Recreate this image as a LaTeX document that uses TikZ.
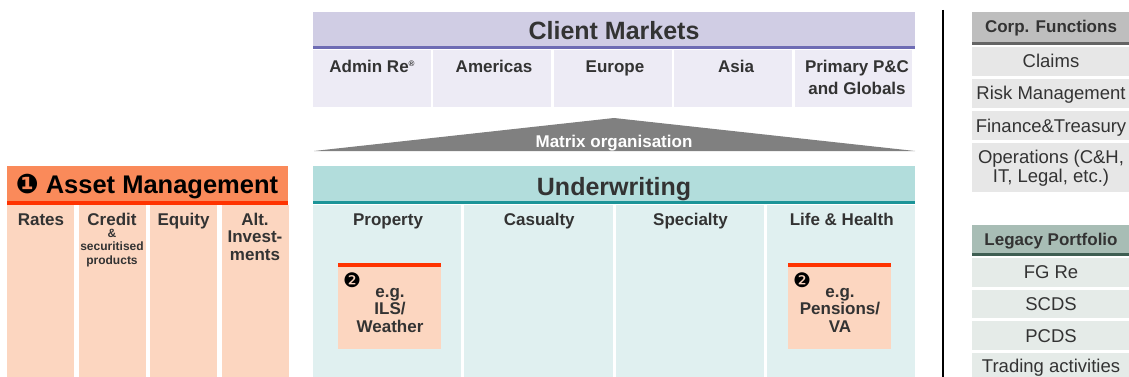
\documentclass[tikz,border=0pt]{standalone}
\usepackage{fontspec}
\setmainfont{Liberation Sans}
\newfontfamily\dingfont{DejaVu Sans}
\usetikzlibrary{positioning}

\definecolor{txt}{RGB}{51,51,51}
\definecolor{amhead}{RGB}{250,138,90}
\definecolor{amred}{RGB}{255,51,0}
\definecolor{ampeach}{RGB}{252,214,192}
\definecolor{cmhead}{RGB}{208,205,228}
\definecolor{cmline}{RGB}{110,108,180}
\definecolor{cmcell}{RGB}{237,235,245}
\definecolor{uwhead}{RGB}{178,221,220}
\definecolor{uwline}{RGB}{28,148,152}
\definecolor{uwcell}{RGB}{224,240,240}
\definecolor{cfhead}{RGB}{190,190,190}
\definecolor{cfline}{RGB}{100,100,100}
\definecolor{cfcell}{RGB}{231,231,231}
\definecolor{lphead}{RGB}{168,189,181}
\definecolor{lpline}{RGB}{62,94,82}
\definecolor{lpcell}{RGB}{229,235,232}
\definecolor{mxgray}{RGB}{128,128,128}

\begin{document}
\begin{tikzpicture}[x=1pt, y=-1pt,
  every node/.style={inner sep=0pt, text=txt},
  lbl/.style={anchor=base, align=center, font=\bfseries\fontsize{17}{17.5}\selectfont},
  ttl/.style={anchor=base, font=\bfseries\fontsize{25}{28}\selectfont},
  sub/.style={anchor=base, align=center, font=\bfseries\fontsize{12}{13.5}\selectfont},
  side/.style={anchor=base, align=center, font=\fontsize{18.5}{17}\selectfont},
  sidehd/.style={anchor=base, font=\bfseries\fontsize{17}{20}\selectfont},
  num/.style={anchor=center, text=black, font=\dingfont\fontsize{20}{20}\selectfont}]
  \useasboundingbox (0,0) rectangle (1129,377);

  % Asset Management block
  \fill[amhead] (7,166) rectangle (288,201);
  \fill[amred] (7,201) rectangle (288,205);
  \foreach \x in {7,78.5,150,221.5}
    \fill[ampeach] (\x,205) rectangle (\x+67,377);
  \node[ttl, text=black, font=\bfseries\fontsize{25.5}{28}\selectfont] (am) at (147,193)
    {{\dingfont\fontsize{27}{27}\selectfont ❶} Asset Management};
  \node[lbl] (rates)  at (41,225)  {Rates};
  \node[lbl] (credit) at (112,225) {Credit};
  \node[sub] (credsub) at (112,264) {\&\\securitised\\products};
  \node[lbl] (equity) at (183.5,225) {Equity};
  % multi-line labels sit on the baseline of their last line
  \node[lbl] (alt)    at (255,260) {Alt.\\Invest-\\ments};

  % Client Markets block
  \fill[cmhead] (313,12) rectangle (915,46);
  \fill[cmline] (313,46) rectangle (915,49);
  \foreach \i in {0,...,4}
    \fill[cmcell] (313+120.4*\i,50) rectangle (313+120.4*\i+117.8,107);
  \node[ttl] (cm) at (614,40) {Client Markets};
  \node[lbl] (admin) at (372,73)
    {Admin Re\raisebox{6pt}{\fontsize{8}{8}\selectfont ®}};
  \node[lbl] (amer) at (494,73) {Americas};
  \node[lbl] (eur)  at (615,73) {Europe};
  \node[lbl] (asia) at (736,73) {Asia};
  \node[lbl] (prim) at (857,95) {Primary P\&C\\[4.5pt]and Globals};

  % matrix wedge
  \fill[mxgray] (314,151) -- (614,118) -- (915,151) -- cycle;
  \node[lbl, text=white] (mx) at (614,147) {Matrix organisation};

  % Underwriting block
  \fill[uwhead] (313,166) rectangle (915,201);
  \fill[uwline] (313,201) rectangle (915,204);
  \foreach \i in {0,...,3}
    \fill[uwcell] (313+151.25*\i,205) rectangle (313+151.25*\i+148.25,377);
  \node[ttl] (uw) at (614,195) {Underwriting};
  \foreach \lbl [count=\i from 0] in {Property,Casualty,Specialty,Life \& Health}
    \node[lbl] (uw\i) at (388+151.25*\i,225) {\lbl};

  % e.g. boxes
  \foreach \x in {338,788} {
    \fill[amred] (\x,263) rectangle (\x+103,267);
    \fill[ampeach] (\x,267) rectangle (\x+103,349);
  }
  \node[num] (two1) at (352,280) {❷};
  \node[num] (two2) at (802,280) {❷};
  \node[lbl] (ils)  at (390,332) {e.g.\\ILS/\\Weather};
  \node[lbl] (pens) at (840,332) {e.g.\\Pensions/\\VA};

  % separator
  \draw[line width=1.5pt, black] (943,10) -- (943,377);

  % Corp. Functions
  \fill[cfhead] (972,12) rectangle (1129,42);
  \fill[cfline] (972,42) rectangle (1129,45);
  \fill[cfcell] (972,47) rectangle (1129,76);
  \fill[cfcell] (972,79) rectangle (1129,108);
  \fill[cfcell] (972,111) rectangle (1129,140);
  \fill[cfcell] (972,143) rectangle (1129,192);
  \node[sidehd] (cf)     at (1051,33)  {Corp. Functions};
  \node[side] (claims)   at (1051,68)  {Claims};
  \node[side] (risk)     at (1051,100) {Risk Management};
  \node[side] (fin)      at (1051,132) {Finance\&Treasury};
  \node[side] (ops)      at (1051,182) {Operations (C\&H,\\IT, Legal, etc.)};

  % Legacy Portfolio
  \fill[lphead] (972,225) rectangle (1129,253);
  \fill[lpline] (972,253) rectangle (1129,256);
  \foreach \y in {258,289.5,321,352.5}
    \fill[lpcell] (972,\y) rectangle (1129,\y+28.5);
  \node[sidehd] (lp)   at (1051,245) {Legacy Portfolio};
  \node[side] (fgre)   at (1051,278) {FG Re};
  \node[side] (scds)   at (1051,310) {SCDS};
  \node[side] (pcds)   at (1051,342) {PCDS};
  \node[side] (trad)   at (1051,372) {Trading activities};
\end{tikzpicture}
\end{document}
